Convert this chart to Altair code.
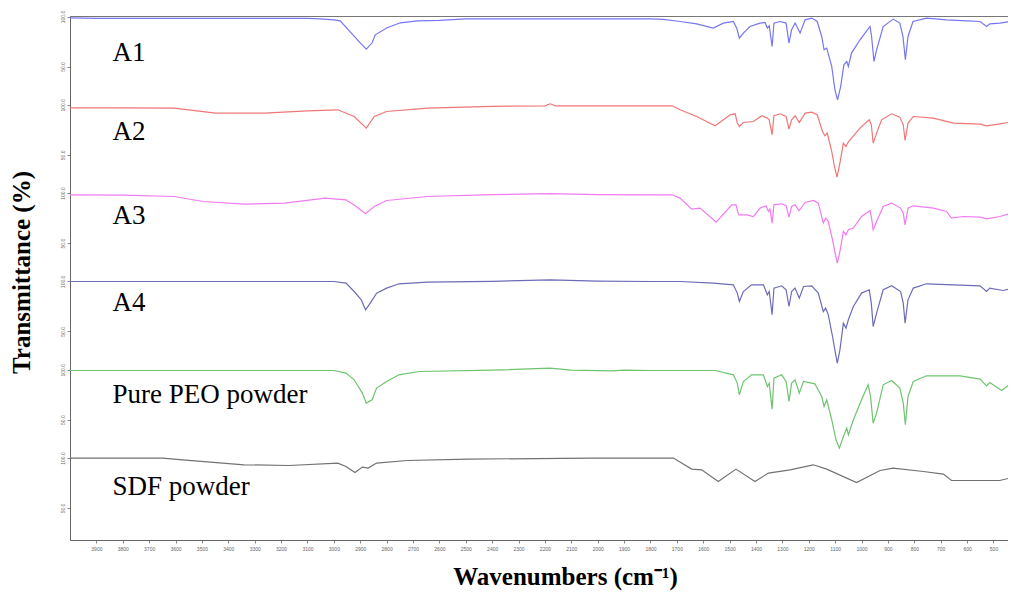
import altair as alt
import pandas as pd

# ---- data (wavenumber cm-1, transmittance %) ----
series_names = ["A1", "A2", "A3", "A4", "Pure PEO powder", "SDF powder"]
series_colors = ["#7676f4", "#f07676", "#f27af2", "#6c6cb8", "#6ec46e", "#727272"]

wn_a1 = [4000, 3900, 3500, 3100, 3050, 3000, 2976, 2938, 2900, 2877, 2855, 2843, 2798, 2748, 2684, 2600, 2500, 2200, 2000, 1800, 1750,
         1688, 1625, 1562, 1524, 1486, 1473, 1463, 1448, 1423, 1385, 1366, 1357, 1350, 1339, 1332, 1309, 1286, 1275, 1265, 1252, 1233,
         1214, 1189, 1168, 1151, 1142, 1132, 1113, 1101, 1091, 1079, 1067, 1056, 1050, 1038, 1006, 968, 962, 953, 943, 918, 880, 855,
         843, 834, 824, 805, 754, 678, 600, 551, 526, 514, 476, 445]
t_a1 = [98.7, 98.2, 98.2, 98.2, 97.7, 96.7, 95.7, 84.7, 73.7, 67.4, 73.7, 81.7, 88.7, 93.7, 95.7, 96.2, 97.7, 97.7, 97.7, 97.7, 97.2,
        95.0, 92.7, 88.4, 93.4, 95.0, 88.4, 78.4, 83.4, 90.0, 93.4, 94.0, 88.4, 90.7, 70.0, 93.4, 95.0, 93.4, 73.4, 86.7, 93.4, 83.4,
        96.7, 98.4, 95.0, 80.0, 66.7, 68.4, 50.0, 26.7, 16.7, 30.0, 51.7, 55.0, 50.0, 63.4, 76.7, 90.0, 80.0, 55.0, 66.7, 90.0, 97.4, 93.4,
        80.0, 56.7, 80.0, 95.0, 98.4, 96.7, 95.7, 95.0, 90.0, 92.7, 93.4, 94.7]

wn_a2 = [4000, 3800, 3605, 3449, 3264, 3100, 2985, 2923, 2877, 2847, 2800, 2646, 2400, 2200, 2180, 2160, 2000, 1800, 1718, 1688, 1625,
         1555, 1498, 1479, 1471, 1463, 1448, 1410, 1378, 1357, 1350, 1339, 1332, 1309, 1286, 1275, 1265, 1252, 1236, 1214, 1189, 1168,
         1148, 1139, 1130, 1113, 1103, 1093, 1082, 1069, 1059, 1053, 1038, 1006, 971, 963, 956, 943, 924, 886, 855, 842, 835, 824, 804,
         728, 652, 551, 526, 476, 445]
t_a2 = [97.0, 97.0, 96.7, 91.7, 91.7, 94.0, 95.0, 88.3, 76.7, 88.3, 93.3, 96.7, 98.5, 99.0, 101.0, 99.0, 99.0, 99.0, 99.0, 95.0, 88.3,
        79.0, 90.0, 91.0, 81.7, 78.3, 82.3, 83.3, 89.0, 86.7, 85.0, 70.0, 89.0, 91.0, 88.3, 75.7, 85.0, 89.0, 82.3, 91.7, 92.7, 90.0,
        73.3, 69.0, 71.7, 53.3, 38.3, 27.7, 41.7, 61.7, 58.3, 61.7, 66.7, 76.7, 85.0, 80.0, 61.7, 71.7, 85.0, 91.0, 87.7, 80.0, 64.3, 81.7, 88.3,
        86.7, 81.7, 80.7, 79.0, 81.0, 82.3]

wn_a3 = [4000, 3800, 3605, 3495, 3339, 3186, 3033, 2954, 2915, 2880, 2847, 2800, 2646, 2400, 2180, 2000, 1800, 1718, 1688, 1644, 1612,
         1551, 1492, 1476, 1466, 1435, 1410, 1385, 1362, 1353, 1347, 1339, 1332, 1303, 1286, 1275, 1265, 1252, 1237, 1214, 1183, 1164,
         1145, 1136, 1126, 1110, 1099, 1092, 1082, 1069, 1059, 1050, 1031, 1000, 968, 962, 956, 943, 918, 886, 852, 842, 835, 824, 804,
         728, 678, 659, 615, 551, 526, 476, 445]
t_a3 = [98.3, 98.0, 96.6, 91.6, 89.0, 90.0, 95.0, 93.3, 86.6, 79.3, 86.6, 92.6, 96.6, 98.5, 99.5, 98.5, 98.3, 98.3, 95.0, 84.0, 85.0,
        71.0, 88.3, 88.3, 78.3, 78.3, 76.6, 85.0, 87.3, 81.6, 84.0, 70.0, 88.3, 89.3, 87.3, 76.0, 86.6, 88.3, 82.3, 90.6, 92.6, 90.0,
        70.0, 75.0, 71.6, 53.3, 38.3, 30.0, 41.6, 61.6, 58.3, 63.3, 65.0, 76.6, 82.6, 75.0, 63.3, 71.6, 86.6, 90.0, 85.0, 80.0, 68.3, 85.0, 87.3,
        85.0, 81.6, 75.0, 76.6, 76.0, 74.3, 76.6, 79.0]

wn_a4 = [4000, 3500, 3000, 2954, 2923, 2896, 2880, 2862, 2838, 2800, 2753, 2646, 2400, 2180, 2000, 1800, 1688, 1562, 1486, 1471, 1463,
         1448, 1417, 1372, 1357, 1350, 1339, 1332, 1303, 1286, 1275, 1265, 1252, 1236, 1220, 1189, 1164, 1145, 1136, 1126, 1110, 1099,
         1092, 1082, 1069, 1059, 1050, 1031, 1000, 971, 963, 956, 943, 918, 886, 852, 842, 835, 824, 804, 754, 551, 526, 514, 464, 445]
t_a4 = [99.9, 99.9, 99.9, 98.3, 89.9, 81.6, 71.6, 78.3, 88.3, 93.3, 97.6, 99.3, 100.0, 101.6, 100.3, 99.9, 99.9, 98.3, 96.6, 88.3, 79.9,
        89.9, 96.6, 96.6, 86.6, 89.9, 66.6, 93.3, 95.6, 91.6, 74.9, 89.9, 93.3, 83.3, 94.9, 95.6, 88.3, 69.9, 73.3, 66.6, 44.9, 28.3,
        18.3, 31.6, 58.3, 53.3, 61.6, 74.9, 88.3, 91.6, 78.3, 54.9, 68.3, 91.6, 95.6, 89.9, 78.3, 58.3, 81.6, 93.3, 97.6, 95.6, 89.9, 93.3, 90.9, 92.0]

wn_peo = [4000, 3500, 3000, 2954, 2923, 2892, 2877, 2855, 2838, 2800, 2753, 2677, 2400, 2180, 2100, 1949, 1900, 1800, 1688, 1555, 1486,
          1471, 1463, 1448, 1417, 1372, 1357, 1350, 1339, 1332, 1303, 1286, 1275, 1265, 1252, 1236, 1220, 1177, 1151, 1142, 1132, 1113,
          1097, 1084, 1069, 1056, 1050, 1031, 1000, 975, 966, 956, 943, 918, 886, 855, 842, 834, 824, 804, 754, 627, 551, 526, 514, 469, 445]
t_peo = [99.2, 99.2, 99.2, 96.6, 89.9, 76.6, 66.6, 69.9, 81.6, 88.2, 94.9, 98.2, 99.5, 101.6, 99.5, 98.9, 99.5, 99.2, 99.2, 99.2, 94.9,
         86.6, 74.9, 88.2, 94.9, 94.9, 83.2, 86.6, 60.6, 91.6, 94.9, 88.2, 68.2, 86.6, 89.9, 76.6, 88.2, 85.9, 73.2, 63.2, 69.9, 49.9,
         29.9, 21.6, 33.2, 41.6, 34.9, 49.9, 69.9, 84.9, 73.2, 46.6, 56.6, 84.9, 89.2, 81.6, 66.6, 44.9, 73.2, 88.2, 93.9, 93.9, 90.6, 83.9, 87.2, 79.2, 84.0]

wn_sdf = [4000, 3650, 3573, 3340, 3170, 2985, 2954, 2920, 2892, 2870, 2838, 2722, 2491, 2026, 1839, 1713, 1644, 1606, 1543, 1476, 1404,
          1353, 1271, 1183, 1132, 1019, 930, 880, 766, 690, 659, 577, 476, 445]
t_sdf = [99.9, 99.9, 98.2, 93.2, 92.5, 94.9, 91.5, 85.5, 90.9, 89.9, 94.9, 97.5, 98.9, 99.9, 99.9, 99.9, 88.9, 88.2, 76.5, 88.9, 76.5,
         84.9, 88.2, 93.2, 88.9, 75.5, 87.5, 89.9, 86.5, 83.9, 77.5, 77.5, 77.5, 79.5]

label_wn = [3839, 3839, 3839, 3839, 3839, 3839]
label_t = [63.5, 73.0, 77.3, 78.6, 74.9, 71.2]

x_ticks = list(range(3900, 499, -100))

# ---- stacking: each spectrum sits 88.3 % units above the next one ----
step = 88.3
spectra = [(wn_a1, t_a1), (wn_a2, t_a2), (wn_a3, t_a3), (wn_a4, t_a4), (wn_peo, t_peo), (wn_sdf, t_sdf)]
n = len(series_names)
offsets = {name: round(step * (n - 1 - i), 1) for i, name in enumerate(series_names)}

rows = []
for name, (wn, t) in zip(series_names, spectra):
    for w, v in zip(wn, t):
        rows.append({"series": name, "wn": w, "y": v + offsets[name]})
df = pd.DataFrame(rows)

labels = pd.DataFrame({
    "series": series_names,
    "wn": label_wn,
    "y": [t + offsets[s] for s, t in zip(series_names, label_t)],
})

y_vals = []
fifty = []
for s in series_names:
    y_vals += [offsets[s] + 50, round(offsets[s] + 100, 1)]
    fifty.append(offsets[s] + 50)
y_vals = sorted(y_vals)
label_expr = "indexof([" + ",".join(str(v) for v in fifty) + "], datum.value) >= 0 ? '50.0' : '100.0'"

x_scale = alt.Scale(domain=[445, 4000], reverse=True, nice=False, zero=False)
y_scale = alt.Scale(domain=[18, 542], nice=False, zero=False)

x_axis = alt.Axis(
    values=x_ticks, format="d", labelFontSize=5, labelColor="#666", tickSize=3, tickColor="#888",
    domainColor="#666", grid=False, labelPadding=3, labelOverlap=False, labelFlush=False, labelSeparation=0,
    labelBound=False,
    title="Wavenumbers (cm⁻¹)", titleFont="Liberation Serif", titleFontSize=25, titleFontWeight="bold",
    titleColor="black", titleX=495, titleY=36, titleAlign="center", titleBaseline="middle",
)
y_axis = alt.Axis(
    values=y_vals, labelExpr=label_expr, labelAngle=270, labelFontSize=5, labelColor="#666",
    labelAlign="center", labelBaseline="bottom", labelPadding=2, labelOverlap=False,
    tickSize=3, tickColor="#888", domainColor="#666", grid=False,
    title="Transmittance (%)", titleFont="Liberation Serif", titleFontSize=25, titleFontWeight="bold",
    titleColor="black", titleX=-49, titleY=256, titleAngle=270, titleAlign="center", titleBaseline="middle",
)

lines = alt.Chart(df).mark_line(strokeWidth=1.2, clip=True).encode(
    x=alt.X("wn:Q", scale=x_scale, axis=x_axis),
    y=alt.Y("y:Q", scale=y_scale, axis=y_axis),
    color=alt.Color("series:N", scale=alt.Scale(domain=series_names, range=series_colors), legend=None),
    detail="series:N",
)

texts = alt.Chart(labels).mark_text(
    align="left", baseline="middle", font="Liberation Serif", fontSize=27, color="black"
).encode(
    x=alt.X("wn:Q", scale=x_scale, axis=x_axis),
    y=alt.Y("y:Q", scale=y_scale, axis=y_axis),
    text="series:N",
)

chart = alt.layer(lines, texts).properties(
    width=938, height=524,
    autosize=alt.AutoSizeParams(type="none"),
    padding={"left": 62, "top": 8, "right": 0, "bottom": 52},
    background="white",
).configure_view(stroke="#777", strokeWidth=1).configure_axis(labelOverlap=False)

chart.save("out.html", embed_options={"renderer": "svg", "actions": False})
